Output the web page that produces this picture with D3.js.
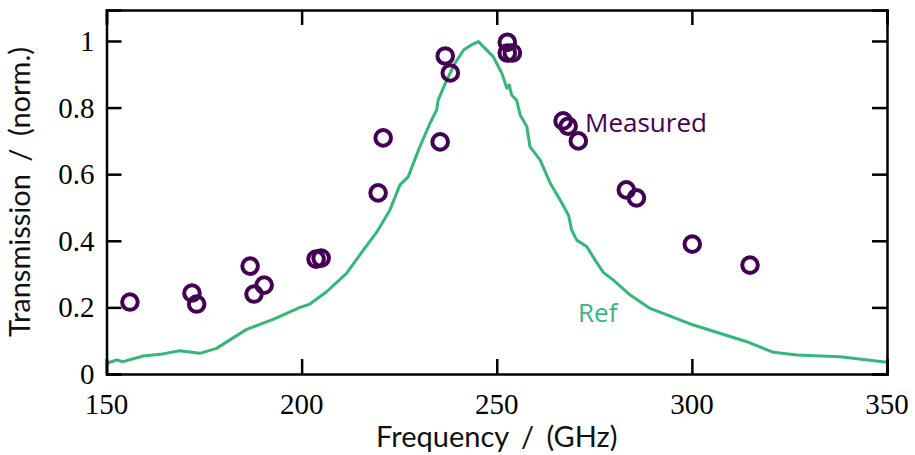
<!DOCTYPE html>
<html>
<head>
<meta charset="utf-8">
<script src="https://cdn.jsdelivr.net/npm/d3@7"></script>
<style>
  body { margin: 0; background: #fff; }
  .tick-label { font-family: "Liberation Serif", serif; font-size: 29px; fill: #000; }
  .axis-title { font-family: "Lato", sans-serif; font-size: 29px; fill: #111; word-spacing: 5px; }
  .series-label { font-family: "Open Sans", sans-serif; font-size: 26px; }
</style>
</head>
<body>
<svg width="915" height="455"></svg>
<script>
// reference transmission curve
let refFreq = [150, 152.6, 154.3, 159.4, 163.7, 168.8, 173.9, 178.2, 185.9, 192.7, 199.6, 202.1, 206.4, 211.5, 215.8,
  219.2, 222.6, 225.2, 227.3, 230.3, 232.9, 234.6, 235.0, 237.2, 239.3, 241.5, 243.5, 245.3, 249.1, 251.3,
  252.6, 253.2, 253.8, 255.1, 256, 257.7, 258.5, 261.1, 263.7, 266.2, 268.4, 269.2, 270.5, 273.1, 275.2,
  277.3, 279.9, 284.2, 289.3, 300.4, 314.1, 320.9, 326.9, 338, 350]
let refVal = [0.032, 0.042, 0.037, 0.054, 0.059, 0.07, 0.062, 0.077, 0.134, 0.164, 0.2, 0.21, 0.247, 0.302, 0.372,
  0.425, 0.492, 0.568, 0.592, 0.683, 0.753, 0.793, 0.823, 0.883, 0.933, 0.973, 0.988, 0.998, 0.953, 0.903,
  0.858, 0.868, 0.838, 0.822, 0.778, 0.743, 0.683, 0.643, 0.573, 0.523, 0.477, 0.432, 0.402, 0.382, 0.342,
  0.305, 0.282, 0.237, 0.197, 0.147, 0.097, 0.065, 0.057, 0.052, 0.035]

// measured points
let measFreq = [156, 171.9, 173.1, 186.8, 187.8, 190.4, 203.7, 205, 219.6, 220.9, 235.5, 236.8, 238.1,
  252.7, 252.7, 254, 267, 268.3, 270.9, 283.2, 285.8, 300.1, 314.9]
let measVal = [0.216, 0.243, 0.21, 0.324, 0.24, 0.267, 0.345, 0.348, 0.544, 0.709, 0.697, 0.955, 0.904,
  0.996, 0.964, 0.964, 0.76, 0.744, 0.70, 0.553, 0.529, 0.39, 0.327]

let xTicks = [150, 200, 250, 300, 350]
let yTicks = [0, 0.2, 0.4, 0.6, 0.8, 1]

let purple = "#440154"
let green = "#35b779"

let svg = d3.select("svg")
let margin = {left: 106.5, right: 28, top: 10, bottom: 81}
let width = +svg.attr("width")
let height = +svg.attr("height")

let x = d3.scaleLinear().domain([150, 350]).range([margin.left, width - margin.right])
let y = d3.scaleLinear().domain([0, 1.093]).range([height - margin.bottom, margin.top])

let line = d3.line()
  .x((d, i) => x(refFreq[i]))
  .y((d, i) => y(refVal[i]))

svg.append("path")
  .datum(refVal)
  .attr("d", line)
  .attr("fill", "none")
  .attr("stroke", green)
  .attr("stroke-width", 3)
  .attr("stroke-linejoin", "round")

svg.append("g").selectAll("circle")
  .data(measVal)
  .enter().append("circle")
  .attr("cx", (d, i) => x(measFreq[i]))
  .attr("cy", d => y(d))
  .attr("r", 7.8)
  .attr("fill", "none")
  .attr("stroke", purple)
  .attr("stroke-width", 4)

// axes: ticks pointing inwards on all four sides
let tickLen = 15
let bottomAxis = d3.axisBottom(x).tickValues(xTicks).tickSize(-tickLen).tickFormat("")
let topAxis = d3.axisTop(x).tickValues(xTicks).tickSize(-tickLen).tickFormat("")
let leftAxis = d3.axisLeft(y).tickValues(yTicks).tickSize(-tickLen).tickFormat("")
let rightAxis = d3.axisRight(y).tickValues(yTicks).tickSize(-tickLen).tickFormat("")

let axes = [
  [bottomAxis, "translate(0," + y(0) + ")"],
  [topAxis, "translate(0," + margin.top + ")"],
  [leftAxis, "translate(" + margin.left + ",0)"],
  [rightAxis, "translate(" + (width - margin.right) + ",0)"]
]
axes.forEach(a => {
  let g = svg.append("g").attr("transform", a[1]).call(a[0])
  g.select(".domain").attr("stroke", "#000").attr("stroke-width", 2.5)
  g.selectAll(".tick line").attr("stroke", "#000").attr("stroke-width", 2.5)
})

svg.append("g").selectAll("text")
  .data(xTicks)
  .enter().append("text")
  .attr("class", "tick-label")
  .attr("x", d => x(d))
  .attr("y", y(0) + 40)
  .attr("text-anchor", "middle")
  .text(d => d)

svg.append("g").selectAll("text")
  .data(yTicks)
  .enter().append("text")
  .attr("class", "tick-label")
  .attr("x", margin.left - 12)
  .attr("y", d => y(d) + 10)
  .attr("text-anchor", "end")
  .text(d => d)

svg.append("text")
  .attr("class", "axis-title")
  .attr("x", (x(150) + x(350)) / 2)
  .attr("y", 447)
  .attr("text-anchor", "middle")
  .text("Frequency / (GHz)")

svg.append("text")
  .attr("class", "axis-title")
  .attr("transform", "translate(30," + (y(0) + margin.top) / 2 + ") rotate(-90)")
  .attr("text-anchor", "middle")
  .text("Transmission / (norm.)")

svg.append("text")
  .attr("class", "series-label")
  .attr("x", 585)
  .attr("y", 132)
  .attr("fill", purple)
  .text("Measured")

svg.append("text")
  .attr("class", "series-label")
  .attr("x", 578)
  .attr("y", 322)
  .attr("fill", green)
  .text("Ref")
</script>
</body>
</html>
